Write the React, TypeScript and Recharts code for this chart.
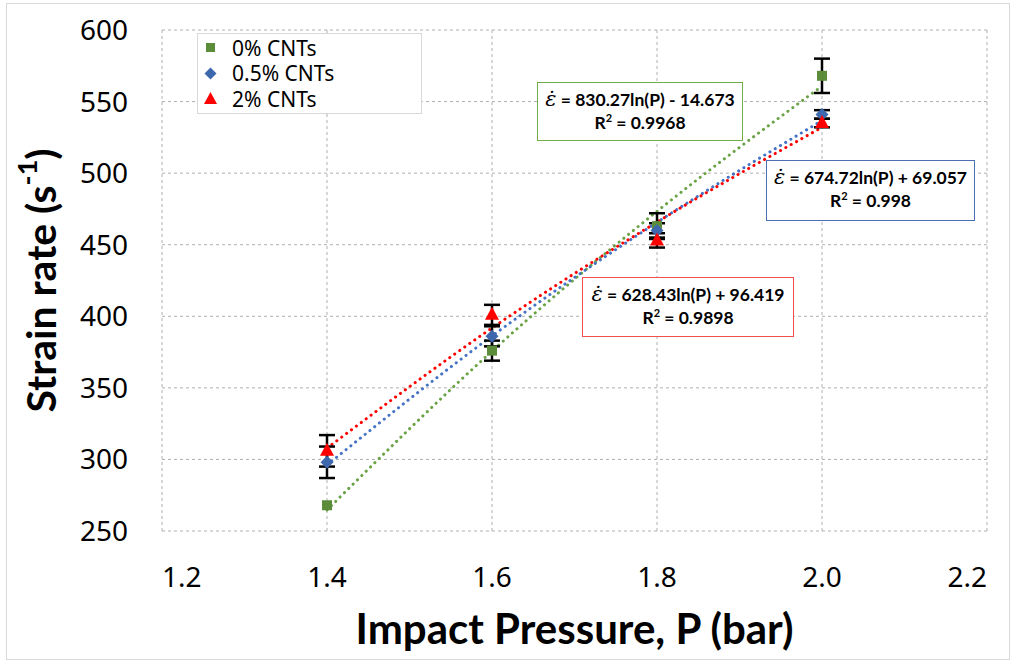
import React from 'react';
import { ComposedChart, Scatter, Line, XAxis, YAxis, CartesianGrid, ErrorBar } from 'recharts';

// impact pressure (bar)
const pressure = [1.4, 1.6, 1.8, 2.0];

// measured strain rate (1/s)
const rate0 = [268, 376, 463, 568];
const rate05 = [298, 386, 460, 541];
const rate2 = [306, 401, 453, 535];

// error bar half-heights
const err0 = [0, 7, 9, 12];
const err05 = [11, 7, 5, 3];
const err2 = [11, 7, 5, 3];

// log trend line values at each pressure
const trend0 = [264.7, 375.6, 473.3, 560.8];
const trend05 = [296.1, 386.2, 465.6, 536.7];
const trend2 = [307.9, 391.8, 465.8, 532.0];

const xTicks = [1.2, 1.4, 1.6, 1.8, 2.0, 2.2];
const yTicks = [250, 300, 350, 400, 450, 500, 550, 600];

const GREEN = '#5b8c3a';
const GREEN_LINE = '#6aa345';
const BLUE = '#3e68ad';
const BLUE_LINE = '#4472c4';
const RED = '#ff0000';

const points = (ys: number[], errs: number[]) => pressure.map((x, i) => ({ x, y: ys[i], err: errs[i] }));
const trend = (ys: number[]) => pressure.map((x, i) => ({ x, y: ys[i] }));

const series = [
  { name: '0% CNTs', color: GREEN, shape: 'square' },
  { name: '0.5% CNTs', color: BLUE, shape: 'diamond' },
  { name: '2% CNTs', color: RED, shape: 'triangle' },
];

const Square = (p: any) => <rect x={p.cx - 5} y={p.cy - 5} width={10} height={10} fill={GREEN} />;
const Diamond = (p: any) => (
  <path d={`M${p.cx},${p.cy - 6.5} L${p.cx + 6.5},${p.cy} L${p.cx},${p.cy + 6.5} L${p.cx - 6.5},${p.cy} Z`} fill={BLUE} />
);
const Triangle = (p: any) => (
  <path d={`M${p.cx},${p.cy - 8} L${p.cx + 7},${p.cy + 5} L${p.cx - 7},${p.cy + 5} Z`} fill={RED} />
);

const legendIcon = (shape: string, color: string) => {
  if (shape === 'square') return <rect x={2} y={2} width={9} height={9} fill={color} />;
  if (shape === 'diamond') return <path d="M6.5,0.5 L12.5,6.5 L6.5,12.5 L0.5,6.5 Z" fill={color} />;
  return <path d="M6.5,0 L13,12 L0,12 Z" fill={color} />;
};

const LegendBox = () => (
  <div
    style={{
      position: 'absolute',
      left: 190,
      top: 29,
      width: 225,
      height: 81,
      boxSizing: 'border-box',
      border: '1px solid #d9d9d9',
      background: '#fff',
      padding: '1px 0 0 6px',
      fontFamily: 'Noto Sans',
      fontSize: 21,
      color: '#000',
    }}
  >
    {series.map((s) => (
      <div key={s.name} style={{ display: 'flex', alignItems: 'center', height: 25.5 }}>
        <svg width={13} height={13} style={{ marginRight: 15 }}>
          {legendIcon(s.shape, s.color)}
        </svg>
        <span>{s.name}</span>
      </div>
    ))}
  </div>
);

// end labels are pulled inside the plot, like the original
const XTick = (props: any) => {
  const { x, y, payload } = props;
  const v = payload.value as number;
  const anchor = v === xTicks[0] ? 'start' : v === xTicks[xTicks.length - 1] ? 'end' : 'middle';
  return (
    <text x={x} y={y} dy="0.71em" textAnchor={anchor}
      style={{ fontFamily: 'Noto Sans', fontSize: 28, fill: '#000' }}>
      {v.toFixed(1)}
    </text>
  );
};

const XTitle = (props: any) => {
  const { x, y, width } = props.viewBox;
  return (
    <text x={x + width / 2} y={y + 97} textAnchor="middle" dominantBaseline="central"
      style={{ fontFamily: 'Lato', fontWeight: 700, fontSize: 42, fill: '#000' }}>
      Impact Pressure, P (bar)
    </text>
  );
};

const YTitle = (props: any) => {
  const { x, y, height } = props.viewBox;
  const cx = x - 2;
  const cy = y + height / 2;
  return (
    <text x={cx} y={cy} textAnchor="middle" dominantBaseline="central" transform={`rotate(-90 ${cx} ${cy})`}
      style={{ fontFamily: 'Lato', fontWeight: 700, fontSize: 41, fill: '#000' }}>
      Strain rate (s<tspan dy={-14} fontSize={27}>-1</tspan><tspan dy={14}>)</tspan>
    </text>
  );
};

const eqBox = (left: number, top: number, w: number, h: number, border: string, eq: string, r2: string) => (
  <div
    style={{
      position: 'absolute',
      left,
      top,
      width: w,
      height: h,
      boxSizing: 'border-box',
      border: `1.5px solid ${border}`,
      background: '#fff',
      fontFamily: 'Lato',
      fontWeight: 700,
      fontSize: 17.5,
      color: '#000',
      textAlign: 'center',
      lineHeight: '23px',
      paddingTop: 5,
    }}
  >
    <div>
      <span style={{ fontFamily: 'DejaVu Serif', fontStyle: 'italic', fontWeight: 400, fontSize: 21 }}>ε̇</span> = {eq}
    </div>
    <div>
      R<sup style={{ fontSize: 11, verticalAlign: 'top', lineHeight: '14px' }}>2</sup> = {r2}
    </div>
  </div>
);

const App: React.FC = () => {
  return (
    <div
      style={{
        position: 'absolute',
        left: 6,
        top: 3,
        width: 1004,
        height: 657,
        boxSizing: 'border-box',
        border: '1px solid #d9d9d9',
        background: '#fff',
      }}
    >
      <ComposedChart width={1002} height={655} margin={{ top: 26, right: 22, bottom: 18, left: 35 }}>
        <CartesianGrid stroke="#b0b0b0" strokeDasharray="3 3" />
        <XAxis
          type="number"
          dataKey="x"
          domain={[1.2, 2.2]}
          ticks={xTicks}
          axisLine={false}
          tickLine={false}
          tickMargin={30}
          height={110}
          tick={<XTick />}
          allowDuplicatedCategory={false}
          label={<XTitle />}
        />
        <YAxis
          type="number"
          dataKey="y"
          domain={[250, 600]}
          ticks={yTicks}
          axisLine={false}
          tickLine={false}
          tickMargin={28}
          width={120}
          tick={{ fontFamily: 'Noto Sans', fontSize: 28, fill: '#000' }}
          label={<YTitle />}
        />
        <Line data={trend(trend0)} dataKey="y" type="monotone" stroke={GREEN_LINE} strokeWidth={3}
          strokeDasharray="0.1 6" strokeLinecap="round" dot={false} legendType="none" isAnimationActive={false} />
        <Line data={trend(trend05)} dataKey="y" type="monotone" stroke={BLUE_LINE} strokeWidth={3}
          strokeDasharray="0.1 6" strokeLinecap="round" dot={false} legendType="none" isAnimationActive={false} />
        <Line data={trend(trend2)} dataKey="y" type="monotone" stroke={RED} strokeWidth={3}
          strokeDasharray="0.1 6" strokeLinecap="round" dot={false} legendType="none" isAnimationActive={false} />
        <Scatter name="0% CNTs" data={points(rate0, err0)} shape={Square} isAnimationActive={false}>
          <ErrorBar dataKey="err" direction="y" width={8} strokeWidth={2.5} stroke="#000" />
        </Scatter>
        <Scatter name="0.5% CNTs" data={points(rate05, err05)} shape={Diamond} isAnimationActive={false}>
          <ErrorBar dataKey="err" direction="y" width={8} strokeWidth={2.5} stroke="#000" />
        </Scatter>
        <Scatter name="2% CNTs" data={points(rate2, err2)} shape={Triangle} isAnimationActive={false}>
          <ErrorBar dataKey="err" direction="y" width={8} strokeWidth={2.5} stroke="#000" />
        </Scatter>
      </ComposedChart>
      <LegendBox />
      {eqBox(530, 78, 206, 59, '#70ad47', '830.27ln(P) - 14.673', '0.9968')}
      {eqBox(759, 156, 209, 61, '#4a6fb5', '674.72ln(P) + 69.057', '0.998')}
      {eqBox(575, 273, 212, 60, '#f05050', '628.43ln(P) + 96.419', '0.9898')}
    </div>
  );
};

export default App;
